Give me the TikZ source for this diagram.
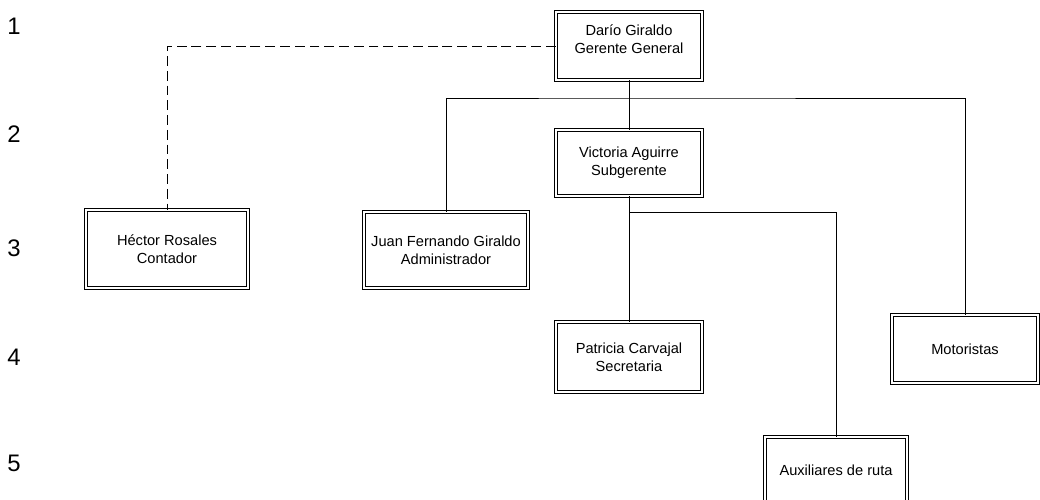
\documentclass[tikz,border=0pt]{standalone}
\usepackage{fontspec}
\setmainfont{Liberation Sans}
\usetikzlibrary{shadows}

\tikzset{
  cargo/.style={draw, line width=0.5pt, double, double distance=1.6pt,
    fill=white, align=center, font=\fontsize{10.4}{12.7}\selectfont,
    minimum width=3.65cm, minimum height=1.7cm,
    drop shadow={shadow xshift=1.6pt, shadow yshift=-1.6pt, fill=gray!40, opacity=1}},
  nivel/.style={font=\fontsize{17}{20}\selectfont},
  linea/.style={line width=0.6pt}
}

\begin{document}
\begin{tikzpicture}[x=0.025cm, y=-0.025cm]
\useasboundingbox (0,0) rectangle (1040,500);
\node[nivel] (n1) at (14,26) {1};
\node[nivel] (n2) at (14,134) {2};
\node[nivel] (n3) at (14,248) {3};
\node[nivel] (n4) at (14,357) {4};
\node[nivel] (n5) at (14,463) {5};
\node[cargo] (dario) at (629,46) {Darío Giraldo\\Gerente General\\[-3pt]\mbox{}};
\node[cargo, minimum height=1.65cm] (victoria) at (629,163) {Victoria Aguirre\\Subgerente};
\node[cargo, minimum width=4.05cm, minimum height=1.95cm] (hector) at (167,249) {Héctor Rosales\\Contador};
\node[cargo, minimum width=4.1cm, minimum height=1.9cm] (juan) at (446,250) {Juan Fernando Giraldo\\Administrador};
\node[cargo, minimum height=1.75cm] (patricia) at (629,357) {Patricia Carvajal\\Secretaria};
\node[cargo, minimum height=1.7cm] (motor) at (965,349) {Motoristas};
\node[cargo, minimum width=3.55cm, minimum height=1.65cm] (aux) at (836,470) {Auxiliares de ruta};
\coordinate (bus) at (629,98);
\coordinate (vbus) at (629,212);
\draw[linea, dash pattern=on 7pt off 3.5pt] (dario.west) -| (hector.north);
\draw[linea] (dario.south) -- (victoria.north);
\draw[linea] (juan.north) |- (bus) -| (motor.north);
\draw[linea] (victoria.south) -- (patricia.north);
\draw[linea] (vbus) -| (aux.north);
\end{tikzpicture}
\end{document}
